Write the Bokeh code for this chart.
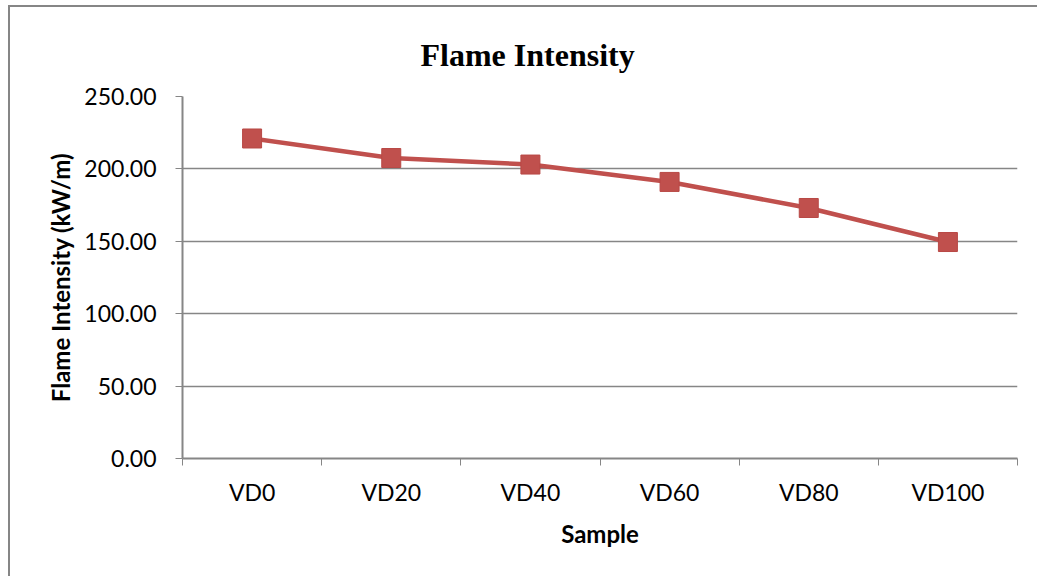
from bokeh.plotting import figure
from bokeh.models import Range1d, FixedTicker, NumeralTickFormatter, ColumnDataSource
from bokeh.embed import file_html
from bokeh.resources import INLINE

title_text = "Flame Intensity"
samples = ["VD0", "VD20", "VD40", "VD60", "VD80", "VD100"]
intensity = [221.0, 207.5, 203.0, 191.0, 173.0, 149.5]
y_ticks = [0, 50, 100, 150, 200, 250]

xpos = [i + 0.5 for i in range(len(samples))]
src = ColumnDataSource(dict(x=xpos, y=intensity, name=samples))

GREY = "#868686"
RED = "#C0504D"

p = figure(width=1029, height=571, output_backend="svg", toolbar_location=None,
           x_range=Range1d(0, len(samples)), y_range=Range1d(0, 250),
           min_border_left=172, min_border_right=22, min_border_top=89, min_border_bottom=120,
           title=title_text)
p.styles = {"margin-left": "8px", "margin-top": "5px",
            "border-left": f"2px solid {GREY}", "border-top": f"2px solid {GREY}"}
p.outline_line_color = None
p.background_fill_color = "white"
p.border_fill_color = "white"

p.title.align = "left"
p.title.offset = 238
p.title.text_font = "Liberation Serif"
p.title.text_font_style = "bold"
p.title.text_font_size = "32px"
p.title.text_color = "black"
p.title.standoff = 48

# x axis
xa = p.xaxis[0]
xa.ticker = FixedTicker(ticks=xpos, minor_ticks=list(range(len(samples) + 1)))
xa.major_label_overrides = {x: s for x, s in zip(xpos, samples)}
xa.major_tick_line_color = None
xa.major_tick_out = 0
xa.major_tick_in = 0
xa.minor_tick_line_color = GREY
xa.minor_tick_out = 7
xa.minor_tick_in = 0
xa.minor_tick_line_width = 1
xa.axis_line_color = GREY
xa.axis_line_width = 2
xa.major_label_text_font = "Lato"
xa.major_label_text_font_size = "23px"
xa.major_label_text_color = "black"
xa.major_label_standoff = 12
xa.axis_label = "Sample"
xa.axis_label_text_font = "Lato"
xa.axis_label_text_font_style = "bold"
xa.axis_label_text_font_size = "24px"
xa.axis_label_text_color = "black"
xa.axis_label_standoff = 10

# y axis
ya = p.yaxis[0]
ya.ticker = FixedTicker(ticks=y_ticks)
ya.formatter = NumeralTickFormatter(format="0.00")
ya.major_tick_line_color = GREY
ya.major_tick_out = 7
ya.major_tick_in = 0
ya.minor_tick_line_color = None
ya.axis_line_color = GREY
ya.axis_line_width = 2
ya.major_label_text_font = "Lato"
ya.major_label_text_font_size = "23px"
ya.major_label_text_color = "black"
ya.major_label_standoff = 19
ya.axis_label = "Flame Intensity (kW/m)"
ya.axis_label_text_font = "Lato"
ya.axis_label_text_font_style = "bold"
ya.axis_label_text_font_size = "24px"
ya.axis_label_text_color = "black"
ya.axis_label_standoff = 6

p.xgrid.grid_line_color = None
p.ygrid.grid_line_color = GREY
p.ygrid.grid_line_width = 1.3
p.ygrid.ticker = FixedTicker(ticks=y_ticks)

p.line("x", "y", source=src, line_color=RED, line_width=4.5)
p.scatter("x", "y", source=src, marker="square", size=19, fill_color=RED, line_color="#B84845", line_width=1)

open("out.html", "w").write(file_html(p, INLINE))
